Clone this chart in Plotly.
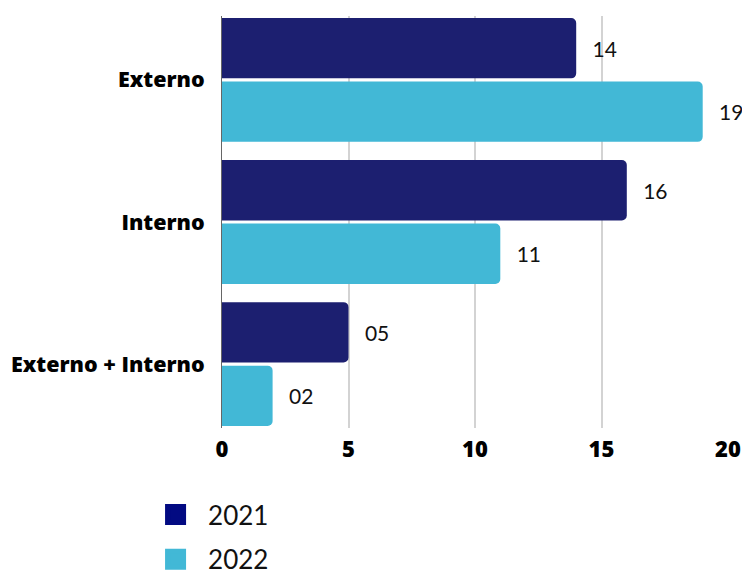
import plotly.graph_objects as go

categories = ["Externo", "Interno", "Externo + Interno"]
years = ["2021", "2022"]
values_2021 = [14, 16, 5]
values_2022 = [19, 11, 2]
series = [values_2021, values_2022]
bar_colors = ["#1C1F70", "#42B8D6"]
legend_colors = ["#020A82", "#42B8D6"]
x_ticks = [0, 5, 10, 15, 20]

fig = go.Figure()
for name, vals, col in zip(years, series, bar_colors):
    fig.add_trace(go.Bar(
        y=categories, x=vals, orientation="h", name=name,
        marker=dict(color=col, line=dict(width=0)),
        text=vals, texttemplate="\u00a0\u00a0\u2009%{x:02d}",
        textposition="outside", cliponaxis=False, constraintext="none",
        textfont=dict(family="Lato", size=21, color="#111111"),
        showlegend=False, hoverinfo="skip",
    ))
for name, col in zip(years, legend_colors):
    fig.add_trace(go.Scatter(
        x=[None], y=[None], mode="markers", name=name, legendgroup=name,
        marker=dict(symbol="square", size=16, color=col, line=dict(color=col, width=9)),
        showlegend=True,
    ))

fig.update_layout(
    width=742, height=575,
    margin=dict(l=222, r=14, t=16, b=147, autoexpand=False),
    paper_bgcolor="white", plot_bgcolor="white",
    barmode="group", bargap=0.106, bargroupgap=0.05, barcornerradius=5,
    xaxis=dict(
        range=[0, 20], tickvals=x_ticks, showgrid=True, gridcolor="#D3D3D3", gridwidth=1.5,
        zeroline=False, showline=False, ticks="", automargin=False,
        tickfont=dict(family="Open Sans", size=22, color="black", weight=800),
        ticklabelstandoff=6,
    ),
    yaxis=dict(
        type="category", range=[2.45, -0.45], showgrid=False, zeroline=False,
        showline=True, linecolor="#666666", linewidth=1, ticks="", automargin=False,
        tickfont=dict(family="Open Sans", size=21.5, color="black", weight=800),
        ticklabelstandoff=12,
    ),
    legend=dict(
        orientation="v", x=-0.156, xanchor="left", y=-0.153, yanchor="top",
        font=dict(family="Lato", size=26, color="#111111"),
        tracegroupgap=8, itemwidth=55, bgcolor="rgba(0,0,0,0)",
    ),
)

fig.write_html("out.html", config={"displayModeBar": False},
               post_script="document.body.style.margin='0';")
